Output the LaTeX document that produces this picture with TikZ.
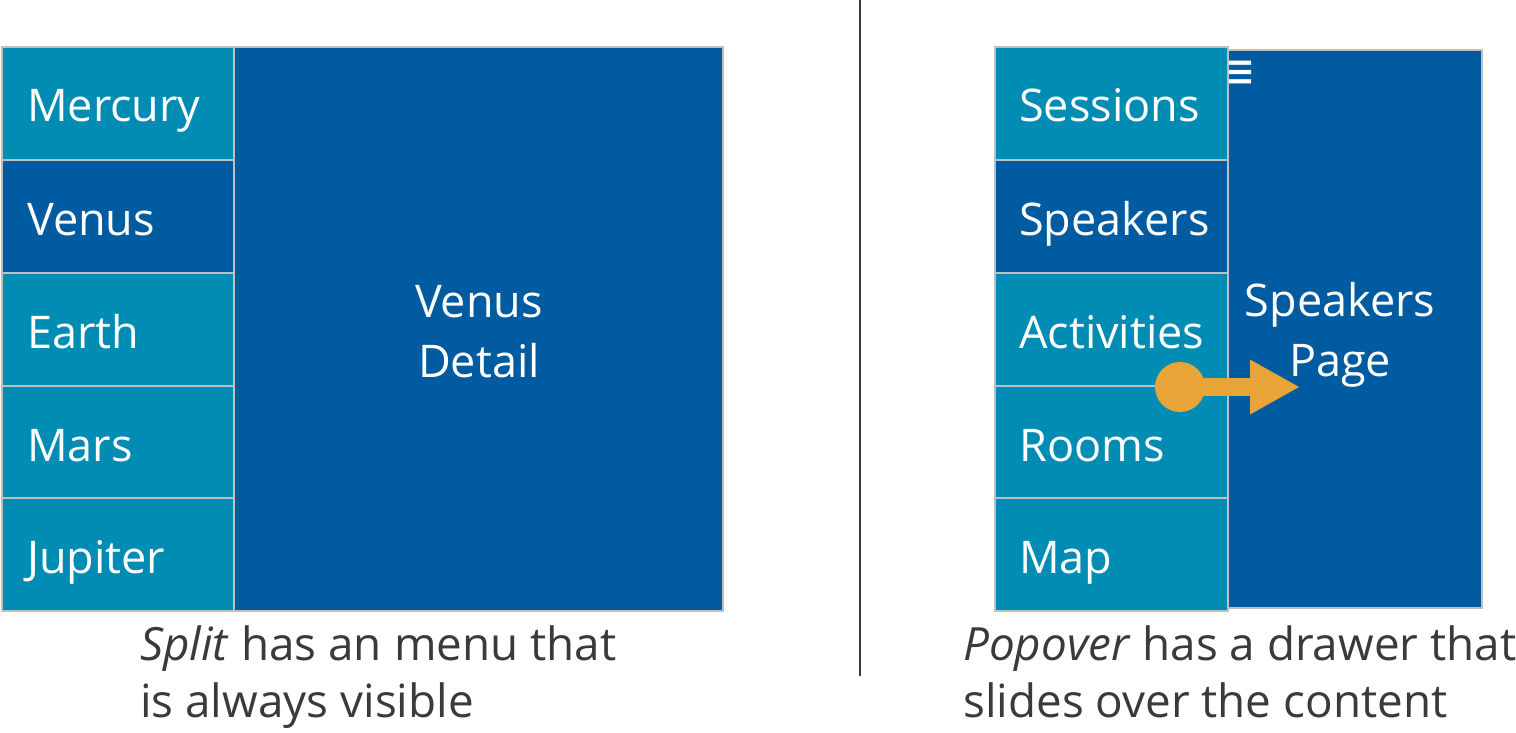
\documentclass[tikz,border=0pt]{standalone}
\usepackage{fontspec}
\setmainfont{Open Sans}
\newfontfamily\symfont{DejaVu Sans}
\usetikzlibrary{arrows.meta}
\definecolor{cellA}{HTML}{018CB4}
\definecolor{cellB}{HTML}{005BA0}
\definecolor{edge}{HTML}{BFBFBF}
\definecolor{capgray}{HTML}{3A3A3A}
\definecolor{orangeA}{HTML}{E8A436}
\tikzset{
  cell/.style={draw=edge, line width=2pt, rectangle, inner sep=0pt, outer sep=0pt},
  lbl/.style={text=white, inner sep=0pt, anchor=base west, font=\fontsize{45}{60}\selectfont},
  bigl/.style={text=white, inner sep=0pt, align=center, anchor=base, font=\fontsize{45}{60}\selectfont},
  capt/.style={text=capgray, inner sep=0pt, anchor=base west, align=left, font=\fontsize{45.8}{57}\selectfont}
}
\begin{document}
\begin{tikzpicture}[x=1pt,y=-1pt]
\useasboundingbox (0,0) rectangle (1516,733);
% left panel
\node[cell, fill=cellB, minimum width=489pt, minimum height=564pt, anchor=north west] (det) at (234,47) {};
\node[cell, fill=cellA, minimum width=232pt, minimum height=113pt, anchor=north west] (m1) at (2,47) {};
\node[cell, fill=cellB, minimum width=232pt, minimum height=113pt, anchor=north west] (m2) at (2,160) {};
\node[cell, fill=cellA, minimum width=232pt, minimum height=113pt, anchor=north west] (m3) at (2,273) {};
\node[cell, fill=cellA, minimum width=232pt, minimum height=112pt, anchor=north west] (m4) at (2,386) {};
\node[cell, fill=cellA, minimum width=232pt, minimum height=113pt, anchor=north west] (m5) at (2,498) {};
\node[lbl] (t1) at (27,122) {Mercury};
\node[lbl] (t2) at (27,235) {Venus};
\node[lbl] (t3) at (27,348) {Earth};
\node[lbl] (t4) at (27,461) {Mars};
\node[lbl] (t5) at (27,573) {Jupiter};
\node[bigl] (dt) at (479,377) {Venus\\Detail};
% divider
\coordinate (dtop) at (860,0);
\coordinate (dbot) at (860,676);
\draw[capgray, line width=2pt] (dtop) -- (dbot);
% right panel
\node[cell, fill=cellB, minimum width=254pt, minimum height=558pt, anchor=north west] (pg) at (1228,50) {};
\node[text=white, inner sep=0pt, font=\symfont\fontsize{34}{34}\selectfont, anchor=center] (hb) at (1240,75) {\scalebox{1.05}[1.5]{≡}};
\node[cell, fill=cellA, minimum width=233pt, minimum height=113pt, anchor=north west] (s1) at (995,47) {};
\node[cell, fill=cellB, minimum width=233pt, minimum height=113pt, anchor=north west] (s2) at (995,160) {};
\node[cell, fill=cellA, minimum width=233pt, minimum height=113pt, anchor=north west] (s3) at (995,273) {};
\node[cell, fill=cellA, minimum width=233pt, minimum height=112pt, anchor=north west] (s4) at (995,386) {};
\node[cell, fill=cellA, minimum width=233pt, minimum height=113pt, anchor=north west] (s5) at (995,498) {};
\node[lbl] (u1) at (1019,122) {Sessions};
\node[lbl] (u2) at (1019,235) {Speakers};
\node[lbl] (u3) at (1019,348) {Activities};
\node[lbl] (u4) at (1019,461) {Rooms};
\node[lbl] (u5) at (1019,573) {Map};
\node[bigl] (sp) at (1340,376) {Speakers\\Page};
% arrow
\node[circle, fill=orangeA, minimum size=50pt, inner sep=0pt] (dot) at (1180,387) {};
\coordinate (tip) at (1300,387);
\draw[orangeA, line width=18pt, -{Triangle[length=50pt,width=51pt]}] (dot.center) -- (tip);
% captions
\node[capt] (c1) at (140,717) {\textit{Split} has an menu that\\is always visible};
\node[capt] (c2) at (963,717) {\textit{Popover} has a drawer that\\slides over the content};
\end{tikzpicture}
\end{document}
